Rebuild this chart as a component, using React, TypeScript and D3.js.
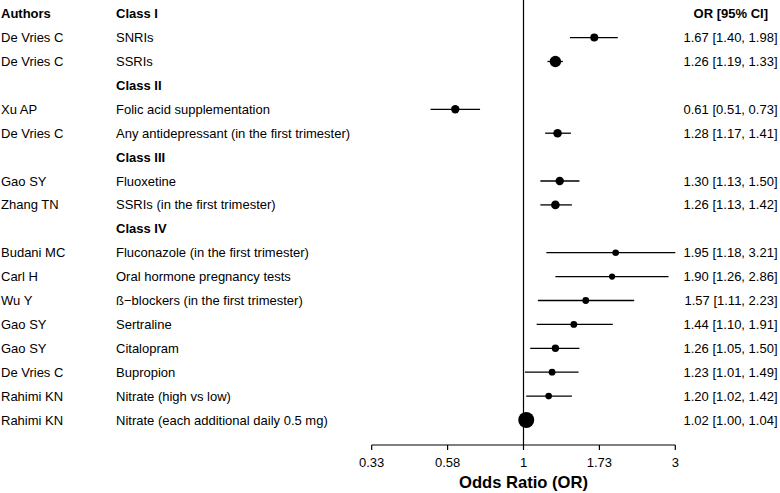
import React from "react";
import * as d3 from "d3";

const authors = ["De Vries C", "De Vries C", "", "Xu AP", "De Vries C", "", "Gao SY", "Zhang TN", "", "Budani MC", "Carl H", "Wu Y", "Gao SY", "Gao SY", "De Vries C", "Rahimi KN", "Rahimi KN"];
const labels = ["SNRIs", "SSRIs", "Class II", "Folic acid supplementation", "Any antidepressant (in the first trimester)", "Class III", "Fluoxetine", "SSRIs (in the first trimester)", "Class IV", "Fluconazole (in the first trimester)", "Oral hormone pregnancy tests", "ß−blockers (in the first trimester)", "Sertraline", "Citalopram", "Bupropion", "Nitrate (high vs low)", "Nitrate (each additional daily 0.5 mg)"];
const isHeader = [false, false, true, false, false, true, false, false, true, false, false, false, false, false, false, false, false];
const orValues = [1.67, 1.26, null, 0.61, 1.28, null, 1.30, 1.26, null, 1.95, 1.90, 1.57, 1.44, 1.26, 1.23, 1.20, 1.02];
const lowerCI = [1.40, 1.19, null, 0.51, 1.17, null, 1.13, 1.13, null, 1.18, 1.26, 1.11, 1.10, 1.05, 1.01, 1.02, 1.00];
const upperCI = [1.98, 1.33, null, 0.73, 1.41, null, 1.50, 1.42, null, 3.21, 2.86, 2.23, 1.91, 1.50, 1.49, 1.42, 1.04];
const pointSize = [4, 5.7, 0, 4.2, 4.3, 0, 4.2, 4.3, 0, 3.3, 3.1, 3.4, 3.4, 3.7, 3.4, 3.3, 8];
const tickLogs = [-1.1, -0.55, 0, 0.55, 1.1];
const tickLabels = ["0.33", "0.58", "1", "1.73", "3"];

const W = 780;
const H = 493;
const FONT = "Liberation Sans, Arial, Helvetica, sans-serif";

export default function App() {
  const x = d3.scaleLog().domain([Math.exp(-1.1), Math.exp(1.1)]).range([371.7, 675.3]);
  const y = d3.scaleLinear().domain([0, 1]).range([13.7, 13.7 + 23.9]);
  const axisY = 445;
  const [xmin, xmax] = x.domain();
  const clamp = (v: number) => Math.max(xmin, Math.min(xmax, v));
  const fmt = d3.format(".2f");

  return (
    <svg width={W} height={H} style={{ position: "absolute", left: 0, top: 0 }} fontFamily={FONT}>
      <rect width={W} height={H} fill="#fff" />
      {/* header */}
      <text x={1} y={y(0)} dy="0.35em" fontSize={13} fontWeight="bold">Authors</text>
      <text x={116} y={y(0)} dy="0.35em" fontSize={13} fontWeight="bold">Class I</text>
      <text x={768} y={y(0)} dy="0.35em" fontSize={13} fontWeight="bold" textAnchor="end">OR [95% CI]</text>
      {/* reference line */}
      <line x1={x(1)} x2={x(1)} y1={0} y2={axisY} stroke="#000" strokeWidth={1.2} />
      {labels.map((lab, i) => {
        const yy = y(i + 1);
        const est = orValues[i];
        const lo = lowerCI[i];
        const hi = upperCI[i];
        return (
          <g key={i}>
            {authors[i] && (
              <text x={1} y={yy} dy="0.35em" fontSize={13}>{authors[i]}</text>
            )}
            <text x={116} y={yy} dy="0.35em" fontSize={13} fontWeight={isHeader[i] ? "bold" : "normal"}>{lab}</text>
            {est !== null && lo !== null && hi !== null && (
              <>
                <line x1={x(clamp(lo))} x2={x(clamp(hi))} y1={yy} y2={yy} stroke="#000" strokeWidth={1.3} />
                <circle cx={x(est)} cy={yy} r={pointSize[i]} fill="#000" />
                <text x={777.5} y={yy} dy="0.35em" fontSize={13} textAnchor="end">
                  {`${fmt(est)} [${fmt(lo)}, ${fmt(hi)}]`}
                </text>
              </>
            )}
          </g>
        );
      })}
      {/* axis */}
      <line x1={x(xmin)} x2={x(xmax)} y1={axisY} y2={axisY} stroke="#000" strokeWidth={1.2} />
      {tickLogs.map((t, i) => (
        <g key={i}>
          <line x1={x(Math.exp(t))} x2={x(Math.exp(t))} y1={axisY} y2={axisY + 5} stroke="#000" strokeWidth={1.2} />
          <text x={x(Math.exp(t))} y={467} fontSize={13} textAnchor="middle">{tickLabels[i]}</text>
        </g>
      ))}
      <text x={x(1)} y={488} fontSize={16.6} fontWeight="bold" textAnchor="middle">Odds Ratio (OR)</text>
    </svg>
  );
}
